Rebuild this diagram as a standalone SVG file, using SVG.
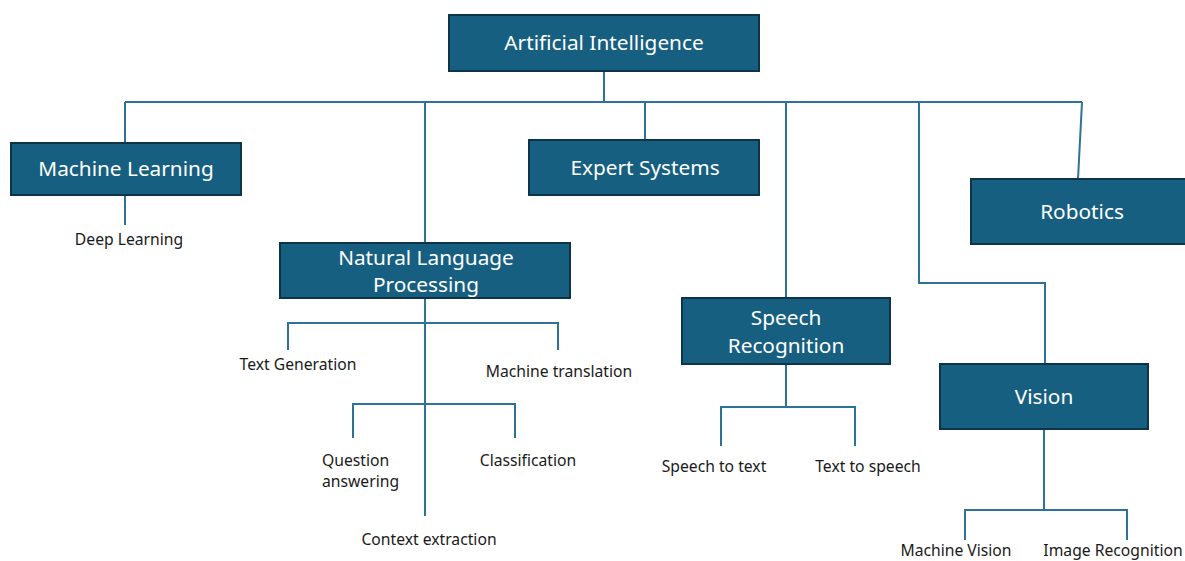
<svg xmlns="http://www.w3.org/2000/svg" width="1185" height="561" viewBox="0 0 1185 561">
<style>
.box{fill:#175f81;stroke:#0d3447;stroke-width:2}
.bt{font-family:"Noto Sans","Liberation Sans",sans-serif;font-size:20.8px;fill:#ffffff;text-anchor:middle}
.lt{font-family:"Noto Sans","Liberation Sans",sans-serif;font-size:15.7px;fill:#1a1a1a;text-anchor:middle}
.c{fill:none;stroke:#2c7397;stroke-width:2}
</style>
<rect width="1185" height="561" fill="#ffffff"/>
<g id="connectors">
<path class="c" d="M604 71V102M125 102H1082M125 102V143M425 102V243M645 102V140M786 102V298M919 102V283H1045V364M1082 102L1078 179"/>
<path class="c" d="M125 195V225"/>
<path class="c" d="M425 298V516M288 350V323H558V350M353 438V404H515V438"/>
<path class="c" d="M786 364V407M721 446V407H855V446"/>
<path class="c" d="M1044 429V510M965 540V510H1127V540"/>
</g>
<g id="ai"><rect class="box" x="449" y="15" width="310" height="56"/><text class="bt" x="604" y="50">Artificial Intelligence</text></g>
<g id="ml"><rect class="box" x="11" y="143" width="230" height="52"/><text class="bt" x="126" y="176">Machine Learning</text></g>
<g id="dl"><text class="lt" x="129" y="245">Deep Learning</text></g>
<g id="nlp"><rect class="box" x="280" y="243" width="290" height="55"/><text class="bt" x="426" y="265">Natural Language</text><text class="bt" x="426" y="292">Processing</text></g>
<g id="tg"><text class="lt" x="298" y="370">Text Generation</text></g>
<g id="mt"><text class="lt" x="559" y="377">Machine translation</text></g>
<g id="qa"><text class="lt" x="322" y="466" style="text-anchor:start">Question</text><text class="lt" x="322" y="487" style="text-anchor:start">answering</text></g>
<g id="cl"><text class="lt" x="528" y="466">Classification</text></g>
<g id="ce"><text class="lt" x="429" y="545">Context extraction</text></g>
<g id="es"><rect class="box" x="529" y="140" width="230" height="55"/><text class="bt" x="645" y="175">Expert Systems</text></g>
<g id="sr"><rect class="box" x="682" y="298" width="208" height="66"/><text class="bt" x="786" y="325">Speech</text><text class="bt" x="786" y="353">Recognition</text></g>
<g id="stt"><text class="lt" x="714" y="472">Speech to text</text></g>
<g id="tts"><text class="lt" x="868" y="472">Text to speech</text></g>
<g id="rob"><rect class="box" x="971" y="179" width="220" height="65"/><text class="bt" x="1082" y="219">Robotics</text></g>
<g id="vis"><rect class="box" x="940" y="364" width="208" height="65"/><text class="bt" x="1044" y="404">Vision</text></g>
<g id="mv"><text class="lt" x="956" y="556">Machine Vision</text></g>
<g id="ir"><text class="lt" x="1113" y="556">Image Recognition</text></g>
</svg>
